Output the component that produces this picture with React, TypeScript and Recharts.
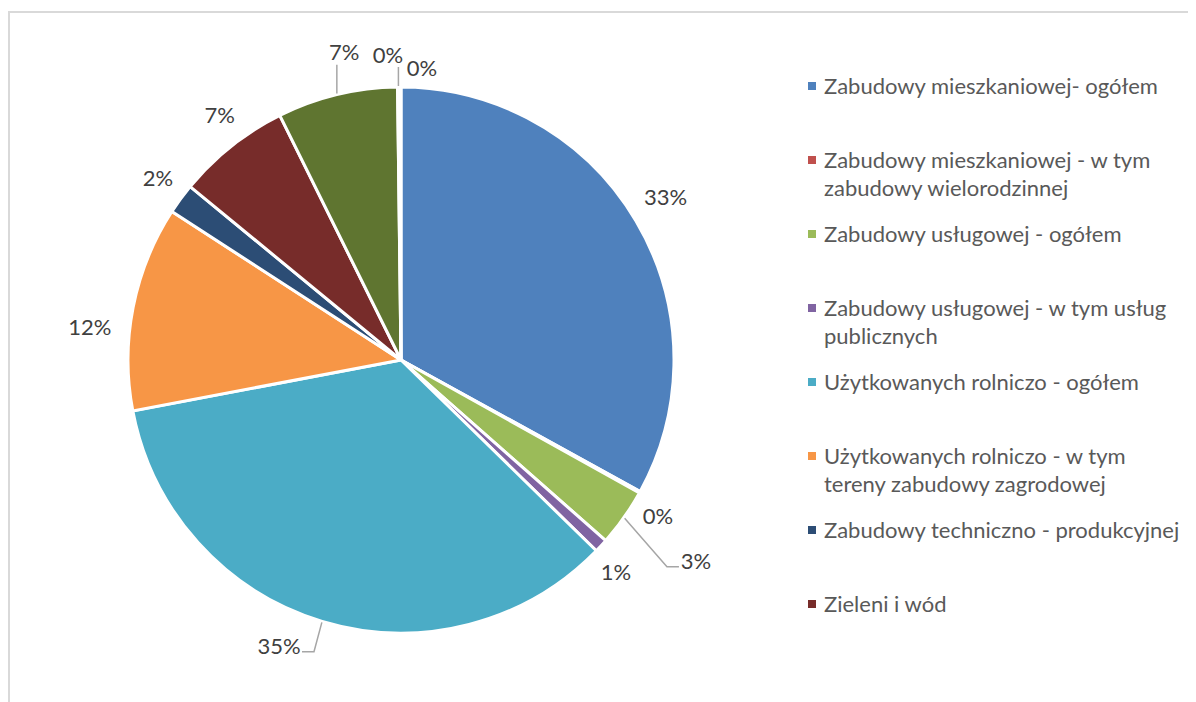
import React from 'react'
import { PieChart, Pie, Cell, Legend } from 'recharts'

// udział powierzchni wg przeznaczenia terenu (%)
const categories = [
  'Zabudowy mieszkaniowej- ogółem',
  'Zabudowy mieszkaniowej - w tym zabudowy wielorodzinnej',
  'Zabudowy usługowej - ogółem',
  'Zabudowy usługowej - w tym usług publicznych',
  'Użytkowanych rolniczo - ogółem',
  'Użytkowanych rolniczo - w tym tereny zabudowy zagrodowej',
  'Zabudowy techniczno - produkcyjnej',
  'Zieleni i wód',
  'Komunikacji',
  'Pozostałe',
  'Inne',
]
const shares = [32.9, 0.1, 3.4, 0.8, 34.6, 12.1, 1.8, 6.7, 7.1, 0.1, 0.1]
const colors = ['#4F81BD', '#C0504D', '#9BBB59', '#8064A2', '#4BACC6', '#F79646', '#2C4D75', '#772C2A', '#5F7530', '#4D3B62', '#276A7C']
const LEGEND_ITEMS = 8

const data = categories.map((name, i) => ({ name, value: shares[i] }))

// przesunięcia etykiet jak w oryginale z Excela (dx, dy, linia odniesienia)
const labelTweaks: [number, number, boolean][] = [
  [-3, -5, false],
  [-15, 5, false],
  [41, 21, true],
  [-13, 0, false],
  [-32, -12, true],
  [-6, 26, false],
  [8, 1, false],
  [12, -2, false],
  [16, -6, true],
  [-10, 5, true],
  [22, 18, false],
]

const FONT = 'Lato, "Open Sans", sans-serif'
const FS = 22
const RAD = Math.PI / 180

function PieLabel(props: any) {
  const { cx, cy, midAngle, outerRadius, percent, index } = props
  const [dx, dy, leader] = labelTweaks[index] ?? [0, 0, false]
  const cos = Math.cos(-midAngle * RAD)
  const sin = Math.sin(-midAngle * RAD)
  const lx = cx + (outerRadius + 38) * cos + dx
  const ly = cy + (outerRadius + 38) * sin + dy
  const text = `${Math.round(percent * 100)}%`
  const hw = text.length * FS * 0.27
  let line = null
  if (leader) {
    const px = cx + (outerRadius + 1) * cos
    const py = cy + (outerRadius + 1) * sin
    let d
    if (Math.abs(lx - px) < hw + 2) {
      d = `M${px},${py}V${ly + 13}`
    } else {
      const right = lx > px
      const ex = right ? lx - hw - 5 : lx + hw + 5
      const ey = ly + 6
      const bx = right ? ex - 12 : ex + 12
      d = `M${px},${py}L${bx},${ey}H${ex}`
    }
    line = <path d={d} stroke="#A6A6A6" strokeWidth={1.5} fill="none" />
  }
  return (
    <g>
      {line}
      <text x={lx} y={ly} textAnchor="middle" dominantBaseline="central" fill="#404040" fontSize={FS} fontFamily={FONT}>
        {text}
      </text>
    </g>
  )
}

function LegendBox() {
  return (
    <div style={{ fontFamily: FONT, fontSize: FS, color: '#595959' }}>
      {categories.slice(0, LEGEND_ITEMS).map((name, i) => (
        <div key={name} style={{ height: 74, display: 'flex', alignItems: 'flex-start' }}>
          <span style={{ width: 8, height: 8, background: colors[i], marginTop: 10, marginRight: 8, flexShrink: 0 }} />
          <span style={{ lineHeight: '28px', width: 360 }}>{name}</span>
        </div>
      ))}
    </div>
  )
}

export default function App() {
  return (
    <div style={{ position: 'relative', width: 1188, height: 694, overflow: 'hidden', background: '#fff' }}>
      <div style={{ position: 'absolute', top: 3, left: 0, width: 1300, height: 800, borderTop: '2px solid #D9D9D9', borderLeft: '2px solid #D9D9D9' }} />
      <PieChart width={1188} height={694} margin={{ top: 0, right: 0, bottom: 0, left: 0 }} style={{ position: 'absolute', top: 0, left: 0 }}>
        <Pie
          data={data}
          dataKey="value"
          nameKey="name"
          cx={393}
          cy={352}
          outerRadius={273}
          startAngle={90}
          endAngle={-270}
          stroke="#FFFFFF"
          strokeWidth={3}
          label={PieLabel}
          labelLine={false}
          isAnimationActive={false}
        >
          {data.map((d, i) => (
            <Cell key={d.name} fill={colors[i]} />
          ))}
        </Pie>
        <Legend
          layout="vertical"
          content={() => <LegendBox />}
          wrapperStyle={{ position: 'absolute', left: 800, top: 64, width: 388 }}
        />
      </PieChart>
    </div>
  )
}
